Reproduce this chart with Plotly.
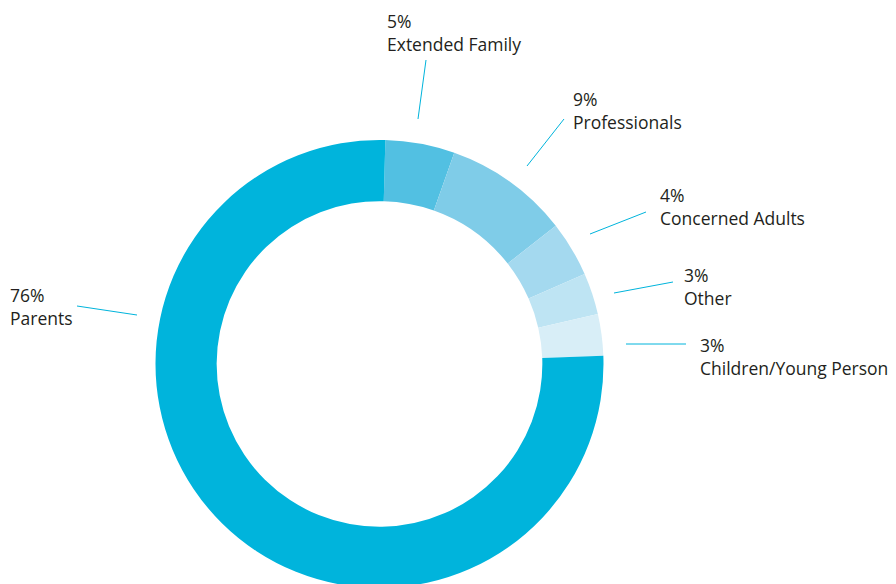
import plotly.graph_objects as go

W, H = 896, 584
OFF = 8  # page body margin

labels = ["Extended Family", "Professionals", "Concerned Adults", "Other",
          "Children/Young Person", "Parents"]
values = [5, 9, 4, 3, 3, 76]
colors = ["#52C0E2", "#7FCCE8", "#A4D9EF", "#BEE4F3", "#D8EEF7", "#00B4DC"]

# label placement (screen pixels): text left/top, leader line end points
label_pos = [(386, 8), (572, 86), (659, 182), (683, 262), (699, 332), (9, 282)]
line_pts = [((418, 119), (426, 60)),
            ((527, 166), (564, 119)),
            ((590, 234), (646, 212)),
            ((614, 293), (673, 282)),
            ((626, 344), (686, 344)),
            ((137, 315), (77, 306))]

cx, cy, r = 379.5, 364, 224


def px(x):
    return (x - OFF) / W


def py(y):
    return 1 - (y - OFF) / H


fig = go.Figure(go.Pie(
    labels=labels,
    values=values,
    hole=0.727,
    sort=False,
    direction="clockwise",
    rotation=1.5,
    marker=dict(colors=colors, line=dict(width=0)),
    textinfo="none",
    hoverinfo="label+percent",
    domain=dict(x=[px(cx - r), px(cx + r)], y=[max(0, py(cy + r)), py(cy - r)]),
    showlegend=False,
))

for lab, val, (tx, ty), (p0, p1) in zip(labels, values, label_pos, line_pts):
    fig.add_annotation(
        x=px(tx), y=py(ty), xref="paper", yref="paper",
        xanchor="left", yanchor="top", align="left",
        text=f"{val}%<br>{lab}", showarrow=False, borderpad=0,
        font=dict(family="'Open Sans', sans-serif", size=17.5, color="#231F20"),
    )
    fig.add_shape(
        type="line", xref="paper", yref="paper",
        x0=px(p0[0]), y0=py(p0[1]), x1=px(p1[0]), y1=py(p1[1]),
        line=dict(color="#00B4DC", width=1),
    )

fig.update_layout(
    width=W, height=H,
    margin=dict(l=0, r=0, t=0, b=0),
    paper_bgcolor="white",
    plot_bgcolor="white",
)

fig.write_html("out.html")
